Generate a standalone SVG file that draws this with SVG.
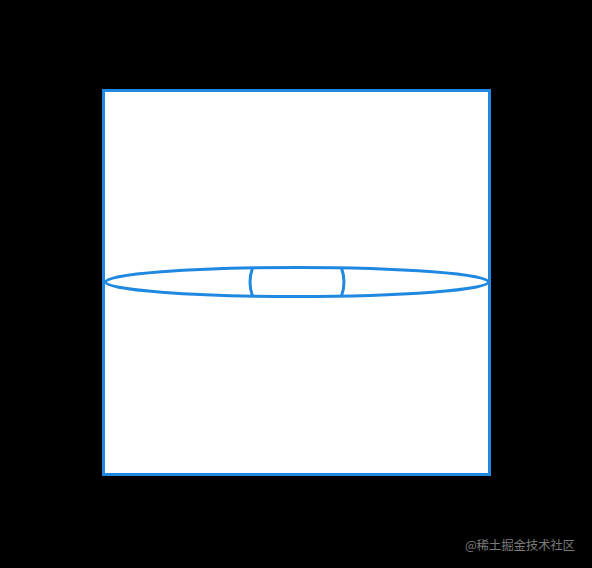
<svg xmlns="http://www.w3.org/2000/svg" width="592" height="568" viewBox="0 0 592 568">
<style>
.ln{fill:none;stroke:#1f88e0;stroke-width:3}
.bx{fill:#fff;stroke:#1f88e0;stroke-width:3}
.wm{font-family:"Noto Sans CJK SC","Noto Sans",sans-serif;font-size:12.5px;fill:#7a7a7a}
</style>
<rect width="592" height="568" fill="#000"/>
<g id="box">
<rect x="103.5" y="90.5" width="386" height="384" class="bx"/>
</g>
<g id="lens">
<ellipse cx="297" cy="282" rx="191.5" ry="14.5" class="ln"/>
<path d="M252.5 268 Q247.5 282 252.5 296" class="ln"/>
<path d="M341.5 268 Q346.5 282 341.5 296" class="ln"/>
</g>
<text class="wm" x="465" y="550" textLength="110">@稀土掘金技术社区</text>
</svg>
